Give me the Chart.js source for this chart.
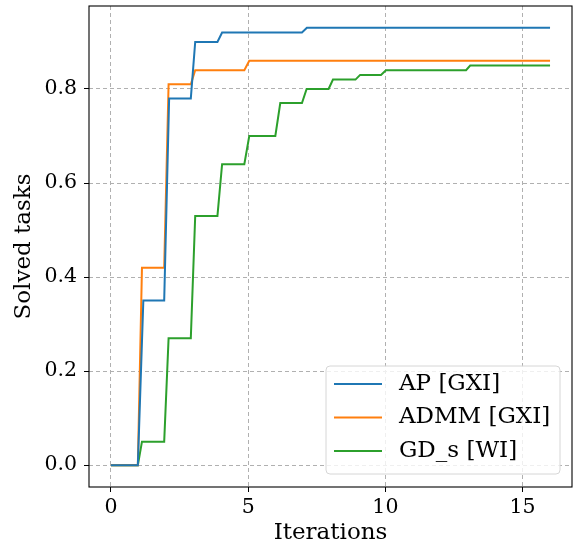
<!DOCTYPE html>
<html>
<head>
<meta charset="utf-8">
<script src="https://cdn.jsdelivr.net/npm/chart.js@4/dist/chart.umd.min.js"></script>
<style>
  html, body { margin: 0; padding: 0; background: #fff; }
  #wrap { width: 581px; height: 548px; }
</style>
</head>
<body>
<div id="wrap"><canvas id="chart" width="581" height="548"></canvas></div>
<script>
// corner points of each step curve
const apX = [0, 0.98, 1.18, 1.94, 2.12, 2.91, 3.07, 3.88, 4.05, 6.96, 7.14, 16];
const apY = [0, 0, 0.35, 0.35, 0.78, 0.78, 0.90, 0.90, 0.92, 0.92, 0.93, 0.93];

const admmX = [0, 0.98, 1.13, 1.94, 2.10, 2.91, 3.07, 4.86, 5.04, 16];
const admmY = [0, 0, 0.42, 0.42, 0.81, 0.81, 0.84, 0.84, 0.86, 0.86];

const gdX = [0, 0.98, 1.13, 1.94, 2.10, 2.91, 3.07, 3.88, 4.05, 4.86, 5.04, 5.99, 6.17,
             6.96, 7.13, 7.93, 8.09, 8.91, 9.08, 9.84, 10.02, 12.94, 13.09, 16];
const gdY = [0, 0, 0.05, 0.05, 0.27, 0.27, 0.53, 0.53, 0.64, 0.64, 0.70, 0.70, 0.77,
             0.77, 0.80, 0.80, 0.82, 0.82, 0.83, 0.83, 0.84, 0.84, 0.85, 0.85];

const seriesNames = ['AP [GXI]', 'ADMM [GXI]', 'GD_s [WI]'];
const seriesColors = ['#1f77b4', '#ff7f0e', '#2ca02c'];
const xTicks = [0, 5, 10, 15];
const yTicks = [0, 0.2, 0.4, 0.6, 0.8];

Chart.defaults.font.family = "'DejaVu Serif', serif";
Chart.defaults.color = '#000';

function pts(xs, ys) {
  return xs.map((x, i) => ({ x: x, y: ys[i] }));
}

// black box round the plot area
const framePlugin = {
  id: 'frame',
  afterDatasetsDraw(chart) {
    const a = chart.chartArea;
    const ctx = chart.ctx;
    ctx.save();
    ctx.strokeStyle = '#000';
    ctx.lineWidth = 1.1;
    ctx.strokeRect(a.left, a.top, a.right - a.left, a.bottom - a.top);
    ctx.restore();
  }
};

// legend drawn inside the plot, lower right
const legendPlugin = {
  id: 'innerLegend',
  afterDraw(chart) {
    const ctx = chart.ctx;
    const bx = 326, by = 366, bw = 234, bh = 108;
    ctx.save();
    ctx.beginPath();
    ctx.roundRect(bx, by, bw, bh, 4);
    ctx.fillStyle = 'rgba(255,255,255,0.8)';
    ctx.fill();
    ctx.strokeStyle = '#d6d6d6';
    ctx.lineWidth = 1;
    ctx.stroke();
    ctx.font = "23px 'DejaVu Serif'";
    ctx.textBaseline = 'middle';
    ctx.textAlign = 'left';
    chart.data.datasets.forEach((ds, i) => {
      const ry = 384 + i * 33.5;
      ctx.strokeStyle = ds.borderColor;
      ctx.lineWidth = 2;
      ctx.beginPath();
      ctx.moveTo(334, ry);
      ctx.lineTo(382, ry);
      ctx.stroke();
      ctx.fillStyle = '#000';
      ctx.fillText(ds.label, 399, ry);
    });
    ctx.restore();
  }
};

const allX = [apX, admmX, gdX];
const allY = [apY, admmY, gdY];

new Chart(document.getElementById('chart'), {
  type: 'line',
  data: {
    datasets: seriesNames.map((name, i) => ({
      label: name,
      data: pts(allX[i], allY[i]),
      borderColor: seriesColors[i],
      backgroundColor: seriesColors[i],
      borderWidth: 2,
      pointRadius: 0,
      tension: 0,
      fill: false
    }))
  },
  options: {
    responsive: false,
    animation: false,
    layout: { padding: { left: 0, right: 9, top: 6, bottom: 0 } },
    plugins: {
      legend: { display: false },
      tooltip: { enabled: false }
    },
    scales: {
      x: {
        type: 'linear',
        min: -0.8,
        max: 16.8,
        afterBuildTicks: s => { s.ticks = xTicks.map(v => ({ value: v })); },
        ticks: { padding: 3, font: { size: 20.5 }, color: '#000', callback: v => String(v) },
        grid: { color: '#b0b0b0', tickColor: '#000', tickLength: 5, lineWidth: 1 },
        border: { display: false, dash: [4, 3] },
        title: { display: true, text: 'Iterations', font: { size: 23 }, color: '#000', padding: { top: 0, bottom: 1 } },
        afterFit: s => { s.height = 61; s.paddingLeft = 0; s.paddingRight = 0; }
      },
      y: {
        min: -0.0465,
        max: 0.9765,
        afterBuildTicks: s => { s.ticks = yTicks.map(v => ({ value: v })); },
        ticks: { padding: 7, font: { size: 20.5 }, color: '#000', callback: v => v.toFixed(1) },
        grid: { color: '#b0b0b0', tickColor: '#000', tickLength: 5, lineWidth: 1 },
        border: { display: false, dash: [4, 3] },
        title: { display: true, text: 'Solved tasks', font: { size: 23 }, color: '#000', padding: { top: 10, bottom: 0 } },
        afterFit: s => { s.width = 89; s.paddingTop = 0; s.paddingBottom = 0; }
      }
    }
  },
  plugins: [framePlugin, legendPlugin]
});
</script>
</body>
</html>
